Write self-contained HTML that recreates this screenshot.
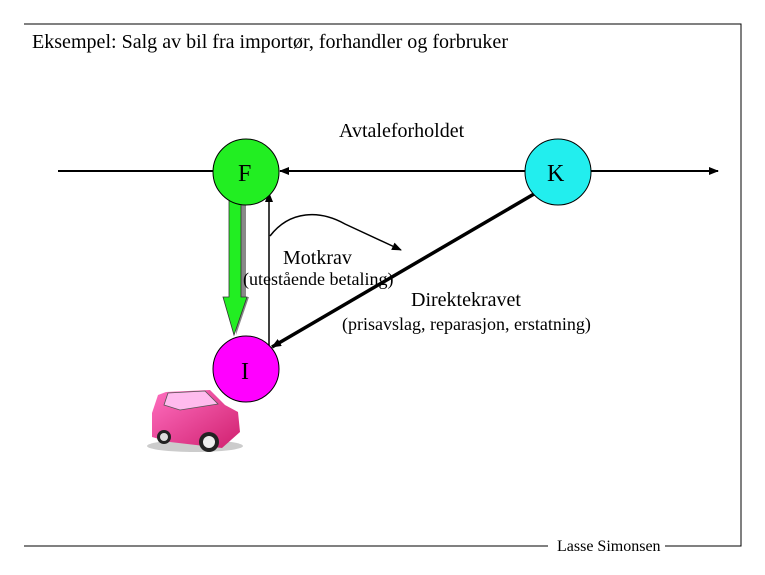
<!DOCTYPE html>
<html><head><meta charset="utf-8"><style>
body{margin:0;background:#fff;width:765px;height:570px;overflow:hidden}
svg text{font-family:"Liberation Serif",serif;fill:#000}
</style></head><body>
<svg width="765" height="570" viewBox="0 0 765 570">
<defs>
<marker id="a" markerWidth="10" markerHeight="8" refX="9" refY="4" orient="auto" markerUnits="userSpaceOnUse"><path d="M0,0 L10,4 L0,8 z" fill="#000"/></marker>
<linearGradient id="car" x1="0" y1="0" x2="1" y2="1"><stop offset="0" stop-color="#ff6fc0"/><stop offset="1" stop-color="#d0206f"/></linearGradient>
</defs>
<path d="M24,24 H741 V546 H665 M548,546 H24 Z" fill="none" stroke="#000" stroke-width="1"/>
<text x="32" y="48" font-size="20" textLength="476" lengthAdjust="spacingAndGlyphs">Eksempel: Salg av bil fra importør, forhandler og forbruker</text>
<text x="339" y="137" font-size="20">Avtaleforholdet</text>
<line x1="58" y1="171" x2="213" y2="171" stroke="#000" stroke-width="2"/>
<line x1="591" y1="171" x2="718" y2="171" stroke="#000" stroke-width="2" marker-end="url(#a)"/>
<line x1="525" y1="171" x2="280" y2="171" stroke="#000" stroke-width="2" marker-end="url(#a)"/>
<path d="M240,200 H246 V297 H249 L236,335 Z" fill="#888"/>
<path d="M229,198 H241 V297 H247 L234,335 L223,297 H229 Z" fill="#22ee22" stroke="#333" stroke-width="0.8"/>
<line x1="269" y1="348" x2="269" y2="193" stroke="#000" stroke-width="1.5" marker-end="url(#a)"/>
<line x1="534" y1="194" x2="272" y2="347" stroke="#000" stroke-width="3.5" marker-end="url(#a)"/>
<path d="M270,236 C290,210 320,210 345,224 L401,250" fill="none" stroke="#000" stroke-width="1.5" marker-end="url(#a)"/>
<circle cx="246" cy="172" r="33" fill="#22ee22" stroke="#000"/>
<circle cx="558" cy="172" r="33" fill="#22eeee" stroke="#000"/>
<circle cx="246" cy="369" r="33" fill="#ff00ff" stroke="#000"/>
<text x="238" y="181" font-size="24">F</text>
<text x="547" y="181" font-size="24">K</text>
<text x="241" y="379" font-size="24">I</text>
<text x="283" y="264" font-size="20">Motkrav</text>
<text x="243" y="285" font-size="18">(utestående betaling)</text>
<text x="411" y="306" font-size="20">Direktekravet</text>
<text x="342" y="330" font-size="18">(prisavslag, reparasjon, erstatning)</text>
<text x="557" y="551" font-size="16">Lasse Simonsen</text>
<ellipse cx="195" cy="446" rx="48" ry="6" fill="#ccc"/>
<path d="M152,413 L158,395 L166,392 L210,390 L225,405 L238,412 L240,432 L222,448 L170,442 L152,437 Z" fill="url(#car)"/>
<path d="M168,393 L205,391 L218,404 L180,410 L164,405 Z" fill="#fbe" stroke="#555" stroke-width="0.8"/>
<circle cx="164" cy="437" r="7" fill="#222"/><circle cx="164" cy="437" r="4" fill="#ddd"/>
<circle cx="209" cy="442" r="10" fill="#222"/><circle cx="209" cy="442" r="6" fill="#eee"/>
</svg>
</body></html>
